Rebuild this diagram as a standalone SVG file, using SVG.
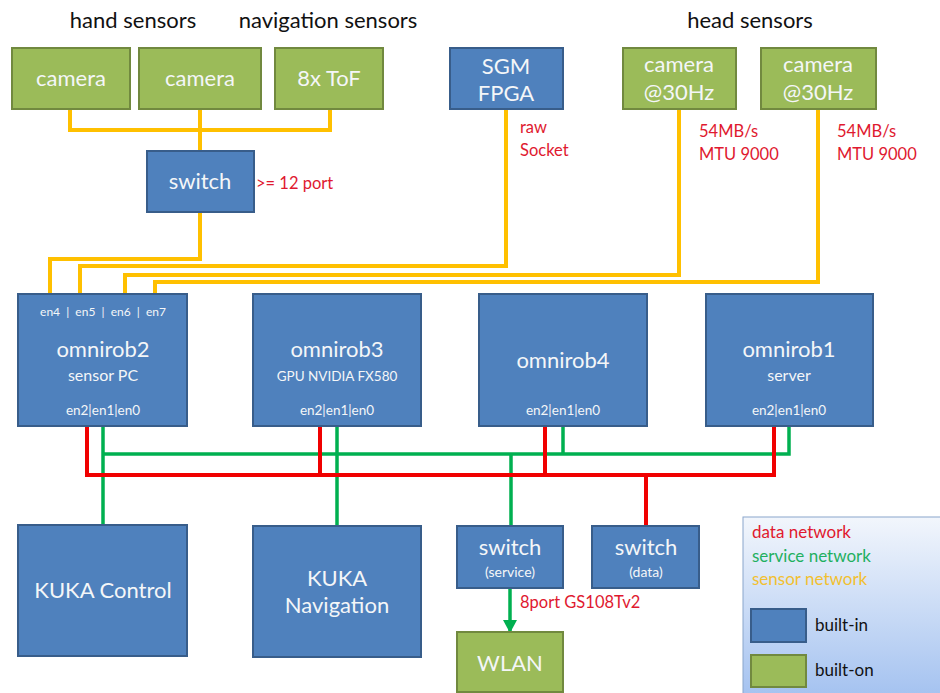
<svg xmlns="http://www.w3.org/2000/svg" width="940" height="693" viewBox="0 0 940 693">
<style>
text{font-family:Lato,"Open Sans","Liberation Sans",sans-serif}
.b{fill:#4f81bd;stroke:#385d8a;stroke-width:2}
.g{fill:#9bbb59;stroke:#71893f;stroke-width:2}
.t{fill:#f4f6f8;text-anchor:middle}
.L{font-size:22px}
.M{font-size:16px}
.S{font-size:13.5px}
.h{fill:#111;font-size:22px;text-anchor:middle}
.r{fill:#e0192f;font-size:16.5px}
.y{fill:none;stroke:#ffc000;stroke-width:4}
.rd{fill:none;stroke:#f00000;stroke-width:4}
.gn{fill:none;stroke:#00b050;stroke-width:3.5}
.lt{font-size:17px}
</style>
<defs>
<linearGradient id="lg" x1="0" y1="0" x2="0" y2="1">
<stop offset="0" stop-color="#f2f6fc"/>
<stop offset="1" stop-color="#a4c2f0"/>
</linearGradient>
<marker id="ah" markerWidth="13" markerHeight="14" refX="12" refY="7" orient="auto" markerUnits="userSpaceOnUse" viewBox="0 0 13 14">
<path d="M0,0 L13,7 L0,14 Z" fill="#00b050"/>
</marker>
</defs>

<text class="h" x="133" y="28">hand sensors</text>
<text class="h" x="328" y="28">navigation sensors</text>
<text class="h" x="750" y="28">head sensors</text>

<g id="connectors">
<path class="y" d="M70,109 V130 H330 V109 M200,109 V151 M200,212 V259 H50 V294"/>
<path class="y" d="M506,109 V266 H80 V294"/>
<path class="y" d="M679,109 V275 H125 V294"/>
<path class="y" d="M818,109 V282 H155 V294"/>
<path class="gn" d="M103,426 V525 M337,426 V525 M103,454 H789 V426 M563,426 V454 M511,454 V526"/>
<path class="rd" d="M87,426 V475 H774 V426 M320,426 V475 M545,426 V475 M646,475 V526"/>
<path class="gn" d="M510,588 V632" marker-end="url(#ah)"/>
</g>

<g id="cam-hand"><rect class="g" x="12" y="48" width="118" height="61"/><text class="t L" x="71" y="86">camera</text></g>
<g id="cam-nav"><rect class="g" x="139" y="48" width="122" height="61"/><text class="t L" x="200" y="86">camera</text></g>
<g id="tof"><rect class="g" x="275" y="48" width="108" height="61"/><text class="t L" x="329" y="86">8x ToF</text></g>
<g id="sgm"><rect class="b" x="450" y="48" width="113" height="61"/><text class="t L" x="506" y="74">SGM</text><text class="t L" x="506" y="101">FPGA</text></g>
<g id="cam-head1"><rect class="g" x="623" y="48" width="113" height="61"/><text class="t L" x="679" y="72">camera</text><text class="t L" x="679" y="100">@30Hz</text></g>
<g id="cam-head2"><rect class="g" x="761" y="48" width="115" height="61"/><text class="t L" x="818" y="72">camera</text><text class="t L" x="818" y="100">@30Hz</text></g>

<g id="switch-sensor"><rect class="b" x="147" y="151" width="107" height="61"/><text class="t L" x="200" y="189">switch</text></g>
<text class="r" x="256" y="189">&gt;= 12 port</text>
<text class="r" x="520" y="133">raw</text>
<text class="r" x="520" y="156">Socket</text>
<text class="r" x="699" y="137">54MB/s</text>
<text class="r" x="699" y="160">MTU 9000</text>
<text class="r" x="837" y="137">54MB/s</text>
<text class="r" x="837" y="160">MTU 9000</text>

<g id="omnirob2"><rect class="b" x="18" y="294" width="169" height="132"/>
<text class="t" x="103" y="316" font-size="12" fill="#dce6f2" xml:space="preserve">en4  |  en5  |  en6  |  en7</text>
<text class="t L" x="103" y="357">omnirob2</text><text class="t M" x="103" y="381">sensor PC</text><text class="t S" x="103" y="415">en2|en1|en0</text></g>
<g id="omnirob3"><rect class="b" x="253" y="294" width="168" height="132"/>
<text class="t L" x="337" y="357">omnirob3</text><text class="t" x="337" y="381" font-size="13.5">GPU NVIDIA FX580</text><text class="t S" x="337" y="415">en2|en1|en0</text></g>
<g id="omnirob4"><rect class="b" x="479" y="294" width="168" height="132"/>
<text class="t L" x="563" y="368">omnirob4</text><text class="t S" x="563" y="415">en2|en1|en0</text></g>
<g id="omnirob1"><rect class="b" x="706" y="294" width="167" height="132"/>
<text class="t L" x="789" y="357">omnirob1</text><text class="t M" x="789" y="381">server</text><text class="t S" x="789" y="415">en2|en1|en0</text></g>

<g id="kuka-control"><rect class="b" x="18" y="525" width="169" height="131"/><text class="t L" x="103" y="598">KUKA Control</text></g>
<g id="kuka-nav"><rect class="b" x="253" y="526" width="168" height="131"/><text class="t L" x="337" y="586">KUKA</text><text class="t L" x="337" y="613">Navigation</text></g>
<g id="switch-service"><rect class="b" x="457" y="526" width="106" height="62"/><text class="t L" x="510" y="555">switch</text><text class="t" x="510" y="577" font-size="14">(service)</text></g>
<g id="switch-data"><rect class="b" x="592" y="526" width="107" height="62"/><text class="t L" x="646" y="555">switch</text><text class="t" x="646" y="577" font-size="14">(data)</text></g>
<text class="r" x="520" y="608">8port GS108Tv2</text>
<g id="wlan"><rect class="g" x="457" y="632" width="106" height="60"/><text class="t L" x="510" y="671">WLAN</text></g>

<g id="legend">
<rect x="743" y="517" width="200" height="180" fill="url(#lg)" stroke="#8aa6cc" stroke-width="1"/>
<text class="lt" x="752" y="538" fill="#e0192f">data network</text>
<text class="lt" x="752" y="562" fill="#1fb060">service network</text>
<text class="lt" x="752" y="585" fill="#f2c030">sensor network</text>
<rect class="b" x="751" y="609" width="55" height="33"/>
<text class="lt" x="815" y="631" fill="#111">built-in</text>
<rect class="g" x="751" y="655" width="55" height="32"/>
<text class="lt" x="815" y="676" fill="#111">built-on</text>
</g>
</svg>
